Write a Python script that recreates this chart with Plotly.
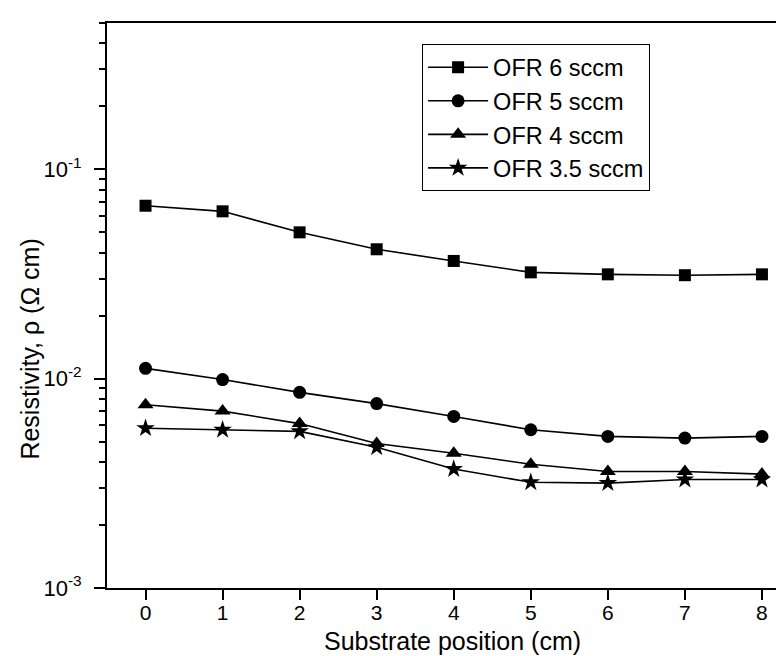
import plotly.graph_objects as go
import numpy as np

positions = [0, 1, 2, 3, 4, 5, 6, 7, 8]
series_names = ["OFR 6 sccm", "OFR 5 sccm", "OFR 4 sccm", "OFR 3.5 sccm"]
ofr6 = [0.067, 0.063, 0.050, 0.0415, 0.0365, 0.0322, 0.0315, 0.0312, 0.0315]
ofr5 = [0.0112, 0.0099, 0.0086, 0.0076, 0.0066, 0.0057, 0.0053, 0.0052, 0.0053]
ofr4 = [0.0075, 0.0070, 0.0061, 0.0049, 0.0044, 0.0039, 0.0036, 0.0036, 0.0035]
ofr35 = [0.0058, 0.0057, 0.0056, 0.0047, 0.0037, 0.0032, 0.00317, 0.0033, 0.0033]
symbols = ["square", "circle", "triangle-up", "star"]
sizes = [12, 13, 14, 14]

y_major = [1e-3, 1e-2, 1e-1]
y_major_text = ["10<sup>-3</sup>", "10<sup>-2</sup>", "10<sup>-1</sup>"]
y_minor = [m * 10.0 ** e for e in (-3, -2, -1) for m in range(2, 10) if m * 10.0 ** e <= 0.5]

fig = go.Figure()
for name, vals, sym, sz in zip(series_names, [ofr6, ofr5, ofr4, ofr35], symbols, sizes):
    fig.add_trace(go.Scatter(
        x=positions, y=vals, name=name, mode="lines+markers",
        line=dict(color="black", width=1.6),
        marker=dict(symbol=sym, size=sz, color="black"),
    ))

font = "Liberation Sans, Arial, sans-serif"
fig.update_layout(
    width=784, height=656,
    margin=dict(l=99, r=0, t=15, b=76, autoexpand=False),
    paper_bgcolor="white", plot_bgcolor="white",
    font=dict(family=font, color="black", size=21),
    showlegend=True,
    legend=dict(
        x=0.46, y=0.962, xanchor="left", yanchor="top",
        bordercolor="black", borderwidth=1, bgcolor="white",
        font=dict(size=23.5, family=font), itemwidth=60,
        tracegroupgap=0,
    ),
    xaxis=dict(
        range=[-0.5, 8.39], tickmode="array", tickvals=positions,
        ticks="outside", ticklen=10, tickwidth=1.5, tickcolor="black",
        showline=True, linewidth=2, linecolor="black", mirror=True,
        showgrid=False, zeroline=False,
        tickfont=dict(size=21, family=font),
        ticklabelstandoff=-5,
    ),
    yaxis=dict(
        type="log", range=[-3, np.log10(0.5)],
        tickmode="array", tickvals=y_major, ticktext=y_major_text,
        ticks="outside", ticklen=11, tickwidth=1.5, tickcolor="black",
        minor=dict(tickmode="array", tickvals=y_minor, ticks="outside", ticklen=6,
                   tickwidth=1.5, tickcolor="black", showgrid=False),
        showline=True, linewidth=2, linecolor="black", mirror=False,
        showgrid=False, zeroline=False,
        tickfont=dict(size=22, family=font),
        ticklabelstandoff=8,
    ),
    annotations=[
        dict(text="Substrate position (cm)", xref="paper", yref="paper",
             x=0.505, y=-0.094, xanchor="center", yanchor="middle",
             showarrow=False, font=dict(size=25, family=font)),
        dict(text="Resistivity, ρ (Ω cm)", xref="paper", yref="paper",
             x=-0.113, y=0.423, xanchor="center", yanchor="middle", textangle=-90,
             showarrow=False, font=dict(size=25, family=font)),
    ],
)

fig.write_html("out.html")
